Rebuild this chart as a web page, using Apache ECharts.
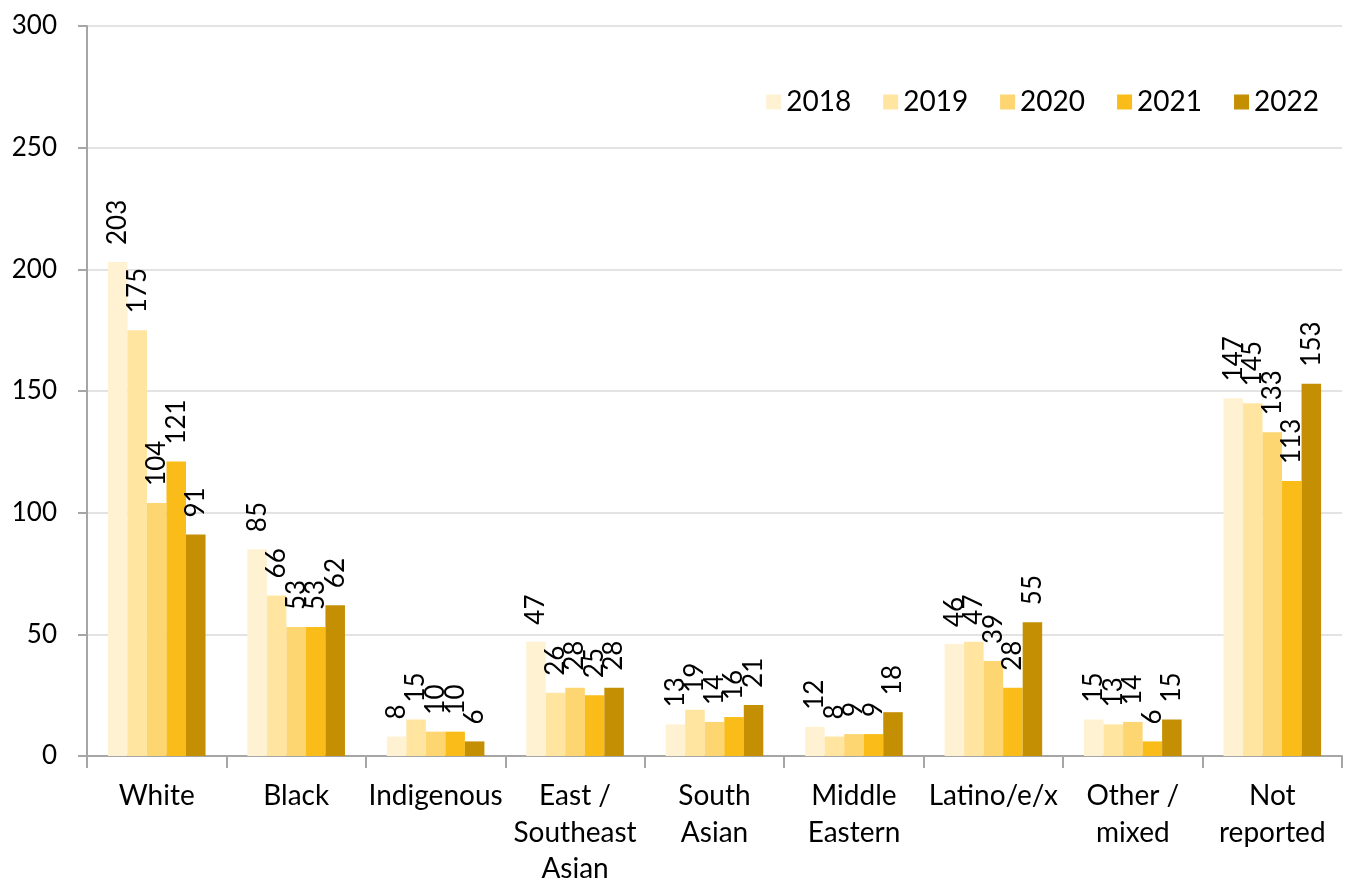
<!DOCTYPE html>
<html>
<head>
<meta charset="utf-8">
<script src="https://cdn.jsdelivr.net/npm/echarts@6/dist/echarts.min.js"></script>
<style>
  html, body { margin: 0; padding: 0; background: #ffffff; }
  #chart { width: 1346px; height: 882px; }
</style>
</head>
<body>
<div id="chart"></div>
<script>
// Respondents by group and year
const categories = ['White', 'Black', 'Indigenous', 'East /\nSoutheast\nAsian', 'South\nAsian',
  'Middle\nEastern', 'Latino/e/x', 'Other /\nmixed', 'Not\nreported'];
const years = ['2018', '2019', '2020', '2021', '2022'];
const values2018 = [203, 85, 8, 47, 13, 12, 46, 15, 147];
const values2019 = [175, 66, 15, 26, 19, 8, 47, 13, 145];
const values2020 = [104, 53, 10, 28, 14, 9, 39, 14, 133];
const values2021 = [121, 53, 10, 25, 16, 9, 28, 6, 113];
const values2022 = [91, 62, 6, 28, 21, 18, 55, 15, 153];
const yTicks = { min: 0, max: 300, interval: 50 };

const seriesValues = [values2018, values2019, values2020, values2021, values2022];
const palette = ['#FFF2D2', '#FFE5A0', '#FDD571', '#F9BC18', '#C58F03'];
const FONT = 'Lato, "Open Sans", sans-serif';

const chart = echarts.init(document.getElementById('chart'));
chart.setOption({
  animation: false,
  textStyle: { fontFamily: FONT },
  grid: { left: 87, right: 4, top: 26, bottom: 126, containLabel: false, outerBoundsMode: 'none' },
  legend: {
    right: 22, top: 83,
    itemWidth: 15, itemHeight: 15, itemGap: 32,
    icon: 'rect',
    textStyle: { fontSize: 28, color: '#000', fontFamily: FONT },
    data: years
  },
  xAxis: {
    type: 'category',
    data: categories,
    axisLine: { lineStyle: { color: '#A6A6A6', width: 2 } },
    axisTick: { show: true, length: 12, lineStyle: { color: '#A6A6A6', width: 2 } },
    axisLabel: { fontSize: 28, color: '#000', margin: 22, lineHeight: 36.5, interval: 0, fontFamily: FONT }
  },
  yAxis: {
    type: 'value',
    min: yTicks.min, max: yTicks.max, interval: yTicks.interval,
    axisLine: { show: true, lineStyle: { color: '#A6A6A6', width: 2 } },
    axisTick: { show: true, length: 9, lineStyle: { color: '#A6A6A6', width: 2 } },
    splitLine: { lineStyle: { color: '#E3E3E3', width: 2 } },
    axisLabel: { fontSize: 26, color: '#000', margin: 30, fontFamily: FONT }
  },
  series: years.map((y, i) => ({
    name: y,
    type: 'bar',
    data: seriesValues[i],
    barGap: '0%',
    barCategoryGap: '30%',
    itemStyle: { color: palette[i] },
    label: {
      show: true,
      position: 'top',
      rotate: 90,
      align: 'left',
      verticalAlign: 'middle',
      distance: 17,
      fontSize: 26,
      color: '#000',
      fontFamily: FONT
    }
  }))
});
</script>
</body>
</html>
